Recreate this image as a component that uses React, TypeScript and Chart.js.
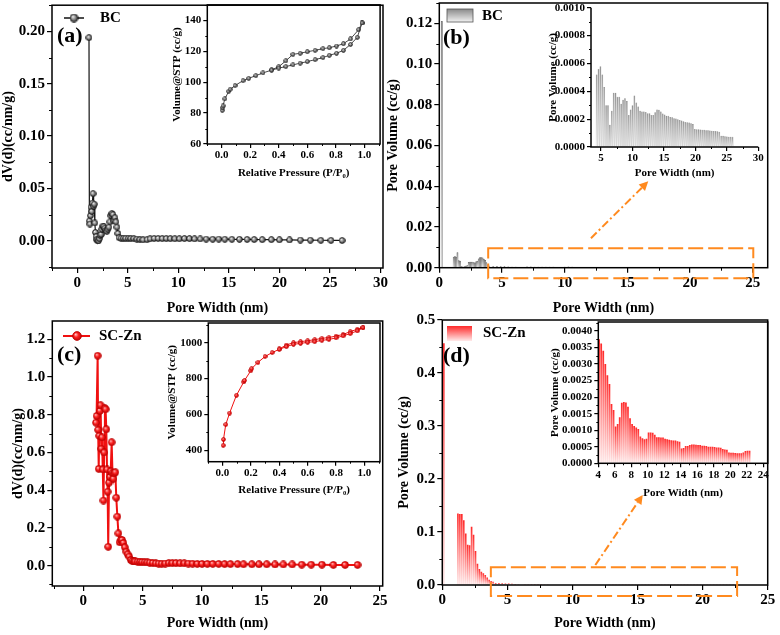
import React, { useEffect, useRef } from 'react';
import { Chart, registerables } from 'chart.js';
Chart.register(...registerables);

const SERIF = "'Liberation Serif', 'Times New Roman', serif";
const ORANGE = '#ff8a1f';

// ---------- (a) BC pore size distribution dV(d) ----------
const A_X = [1.16, 1.2, 1.25, 1.31, 1.37, 1.43, 1.49, 1.56, 1.62, 1.68, 1.74, 1.8, 1.87, 1.94, 2.02, 2.1, 2.18, 2.26, 2.35, 2.44, 2.53, 2.63, 2.73, 2.83, 2.93, 3.03, 3.13, 3.23, 3.33, 3.43, 3.53, 3.63, 3.73, 3.83, 3.93, 4.03, 4.13, 4.33, 4.56, 4.8, 5.05, 5.3, 5.6, 5.9, 6.2, 6.5, 6.9, 7.2, 7.6, 8.0, 8.4, 8.8, 9.2, 9.65, 10.1, 10.6, 11.1, 11.6, 12.16, 12.75, 13.4, 14.0, 14.6, 15.3, 16.05, 16.8, 17.5, 18.3, 19.2, 20.0, 21.0, 22.07, 23.06, 24.1, 25.1, 26.2];
const A_Y = [0.194, 0.019, 0.016, 0.024, 0.032, 0.028, 0.036, 0.045, 0.033, 0.035, 0.017, 0.008, 0.004, 0.001, 0.0, 0.0, 0.002, 0.005, 0.006, 0.011, 0.014, 0.0135, 0.012, 0.01, 0.009, 0.011, 0.013, 0.018, 0.024, 0.026, 0.025, 0.019, 0.022, 0.018, 0.013, 0.007, 0.003, 0.0025, 0.0024, 0.0024, 0.0023, 0.0022, 0.0021, 0.0016, 0.0012, 0.0009, 0.001, 0.0018, 0.0022, 0.0022, 0.0021, 0.0021, 0.002, 0.0019, 0.0019, 0.0021, 0.002, 0.0018, 0.0017, 0.0016, 0.0015, 0.0016, 0.0015, 0.0014, 0.0014, 0.0013, 0.0012, 0.0011, 0.0011, 0.0009, 0.0008, 0.0007, 0.0006, 0.0005, 0.0004, 0.0003];
const A_X_TICKS = [0, 5, 10, 15, 20, 25, 30];
const A_Y_TICKS = [0, 0.05, 0.1, 0.15, 0.2];

// (a) inset: BC isotherm
const AI_ADS_P = [0.005, 0.007, 0.01, 0.023, 0.05, 0.06, 0.094, 0.15, 0.19, 0.24, 0.29, 0.35, 0.4, 0.45, 0.5, 0.55, 0.6, 0.655, 0.71, 0.754, 0.805, 0.853, 0.903, 0.95, 0.984];
const AI_ADS_V = [81.8, 83.5, 84.7, 89.2, 94.1, 95.4, 97.8, 101, 102.5, 104.2, 106, 107.8, 109.1, 110.1, 111.2, 112.3, 113.3, 114.6, 115.9, 117.4, 118.7, 120.6, 124.4, 129, 138.3];
const AI_DES_P = [0.984, 0.96, 0.903, 0.853, 0.805, 0.754, 0.71, 0.655, 0.6, 0.55, 0.5, 0.45, 0.4, 0.35];
const AI_DES_V = [138.3, 134, 128, 124.9, 123.4, 122.3, 121.7, 120.6, 119.7, 118.7, 118, 113.8, 110, 108];
const AI_X_TICKS = [0, 0.2, 0.4, 0.6, 0.8, 1.0];
const AI_Y_TICKS = [60, 80, 100, 120, 140];

// ---------- (b) BC pore volume bars ----------
const B_NEAR_X = [0.2, 1.15, 1.25, 1.35, 1.45, 1.55, 1.65, 1.75, 1.85, 1.95, 2.05, 2.15, 2.25, 2.35, 2.45, 2.55, 2.65, 2.75, 2.85, 2.95, 3.05, 3.15, 3.25, 3.35, 3.45, 3.55, 3.65, 3.75, 3.85, 3.95];
const B_NEAR_Y = [0.121, 0.0052, 0.0054, 0.0052, 0.0074, 0.0035, 0.0032, 0.0006, 0.0004, 0.0003, 0.0005, 0.0009, 0.0011, 0.0026, 0.0028, 0.0027, 0.0028, 0.0025, 0.0024, 0.003, 0.0032, 0.0044, 0.005, 0.005, 0.0049, 0.0042, 0.0036, 0.0025, 0.0014, 0.0009];
const B_X_TICKS = [0, 5, 10, 15, 20, 25];
const B_Y_TICKS = [0, 0.02, 0.04, 0.06, 0.08, 0.1, 0.12];

// (b) inset bars (also the tail of the main bars)
const BI_X = [4.3, 4.6, 4.9, 5.2, 5.5, 5.8, 6.1, 6.4, 6.7, 7.0, 7.3, 7.6, 7.9, 8.2, 8.5, 8.8, 9.1, 9.4, 9.7, 10.0, 10.3, 10.6, 10.9, 11.2, 11.5, 11.8, 12.1, 12.4, 12.7, 13.0, 13.3, 13.6, 13.9, 14.2, 14.5, 14.8, 15.1, 15.4, 15.7, 16.0, 16.3, 16.6, 16.9, 17.2, 17.5, 17.8, 18.1, 18.4, 18.7, 19.0, 19.3, 19.6, 19.9, 20.2, 20.5, 20.8, 21.1, 21.4, 21.7, 22.0, 22.3, 22.6, 22.9, 23.2, 23.5, 23.8, 24.1, 24.4, 24.7, 25.0, 25.3, 25.6, 25.9];
const BI_Y = [0.00052, 0.00056, 0.00058, 0.00052, 0.00043, 0.0003, 0.0003, 0.00016, 0.00026, 0.00039, 0.00039, 0.00036, 0.00036, 0.00031, 0.00034, 0.00035, 0.00033, 0.00023, 0.00027, 0.0003, 0.00037, 0.00032, 0.00029, 0.00026, 0.000254, 0.000254, 0.000252, 0.000243, 0.000242, 0.00023, 0.00023, 0.00025, 0.00027, 0.000268, 0.000254, 0.00024, 0.000234, 0.000225, 0.000224, 0.000215, 0.000213, 0.000207, 0.000205, 0.0002, 0.000194, 0.00019, 0.000184, 0.00018, 0.000178, 0.000175, 0.00017, 0.000165, 0.00013, 0.000128, 0.000127, 0.000125, 0.000124, 0.000123, 0.00012, 0.00012, 0.000118, 0.000117, 0.000115, 0.000115, 0.000113, 0.00011, 0.000081, 0.00008, 0.000078, 0.000075, 0.000074, 0.000074, 0.000073];
const BI_X_TICKS = [5, 10, 15, 20, 25, 30];
const BI_Y_TICKS = [0, 0.0002, 0.0004, 0.0006, 0.0008, 0.001];

// ---------- (c) SC-Zn dV(d) ----------
const C_X = [1.07, 1.12, 1.21, 1.25, 1.3, 1.34, 1.4, 1.46, 1.52, 1.58, 1.64, 1.7, 1.76, 1.82, 1.88, 1.94, 2.0, 2.05, 2.1, 2.17, 2.24, 2.31, 2.39, 2.46, 2.53, 2.61, 2.7, 2.78, 2.87, 2.96, 3.06, 3.16, 3.27, 3.38, 3.5, 3.62, 3.74, 3.87, 4.0, 4.13, 4.26, 4.38, 4.58, 4.78, 4.97, 5.17, 5.4, 5.6, 5.85, 6.1, 6.35, 6.6, 6.9, 7.2, 7.5, 7.8, 8.15, 8.5, 8.85, 9.2, 9.6, 10.0, 10.45, 10.9, 11.4, 11.9, 12.4, 13.0, 13.5, 14.2, 14.8, 15.45, 16.15, 16.85, 17.6, 18.4, 19.2, 20.1, 21.07, 22.05, 23.1];
const C_Y = [0.758, 0.793, 1.113, 0.72, 0.513, 0.688, 0.82, 0.85, 0.62, 0.68, 0.51, 0.345, 0.6, 0.834, 0.829, 0.723, 0.51, 0.392, 0.1, 0.44, 0.47, 0.5, 0.654, 0.49, 0.46, 0.49, 0.495, 0.36, 0.26, 0.171, 0.124, 0.136, 0.136, 0.12, 0.097, 0.074, 0.06, 0.048, 0.03, 0.024, 0.022, 0.022, 0.021, 0.02, 0.019, 0.018, 0.017, 0.016, 0.014, 0.012, 0.011, 0.01, 0.011, 0.013, 0.013, 0.013, 0.012, 0.012, 0.011, 0.01, 0.009, 0.009, 0.009, 0.009, 0.009, 0.008, 0.008, 0.008, 0.007, 0.007, 0.007, 0.007, 0.006, 0.006, 0.006, 0.005, 0.005, 0.005, 0.004, 0.004, 0.004];
const C_X_TICKS = [0, 5, 10, 15, 20, 25];
const C_Y_TICKS = [0, 0.2, 0.4, 0.6, 0.8, 1.0, 1.2];

// (c) inset: SC-Zn isotherm
const CI_ADS_P = [0.005, 0.007, 0.023, 0.05, 0.098, 0.15, 0.155, 0.2, 0.205, 0.25, 0.3, 0.35, 0.4, 0.45, 0.5, 0.55, 0.6, 0.65, 0.7, 0.75, 0.8, 0.85, 0.9, 0.95, 0.99];
const CI_ADS_V = [427, 460, 543, 607, 706, 781, 789, 844, 855, 890, 923, 945, 963, 978, 991, 996, 1002, 1006, 1013, 1018, 1027, 1038, 1051, 1066, 1084];
const CI_DES_P = [0.99, 0.95, 0.9, 0.85, 0.8, 0.75, 0.7, 0.65, 0.6, 0.55, 0.5, 0.45, 0.4];
const CI_DES_V = [1084, 1075, 1062, 1046, 1037, 1029, 1024, 1017, 1011, 1006, 1000, 987, 965];
const CI_X_TICKS = [0, 0.2, 0.4, 0.6, 0.8, 1.0];
const CI_Y_TICKS = [400, 600, 800, 1000];

// ---------- (d) SC-Zn pore volume bars ----------
const D_NEAR_X = [0.12, 1.2, 1.35, 1.5, 1.65, 1.8, 1.95, 2.1, 2.25, 2.4, 2.55, 2.7, 2.85, 3.0, 3.15, 3.3, 3.45, 3.6, 3.75, 3.9];
const D_NEAR_Y = [0.456, 0.135, 0.134, 0.134, 0.122, 0.097, 0.076, 0.075, 0.11, 0.095, 0.064, 0.04, 0.03, 0.025, 0.022, 0.019, 0.014, 0.01, 0.0075, 0.006];
const D_X_TICKS = [0, 5, 10, 15, 20, 25];
const D_Y_TICKS = [0, 0.1, 0.2, 0.3, 0.4, 0.5];

// (d) inset bars (also the tail of the main bars)
const DI_X = [4.1, 4.35, 4.6, 4.85, 5.1, 5.35, 5.6, 5.85, 6.1, 6.35, 6.6, 6.85, 7.1, 7.35, 7.6, 7.85, 8.1, 8.35, 8.6, 8.85, 9.1, 9.35, 9.6, 9.85, 10.1, 10.35, 10.6, 10.85, 11.1, 11.35, 11.6, 11.85, 12.1, 12.35, 12.6, 12.85, 13.1, 13.35, 13.6, 13.85, 14.1, 14.35, 14.6, 14.85, 15.1, 15.35, 15.6, 15.85, 16.1, 16.35, 16.6, 16.85, 17.1, 17.35, 17.6, 17.85, 18.1, 18.35, 18.6, 18.85, 19.1, 19.35, 19.6, 19.85, 20.1, 20.35, 20.6, 20.85, 21.1, 21.35, 21.6, 21.85, 22.1, 22.35];
const DI_Y = [0.00375, 0.00362, 0.0034, 0.003, 0.00266, 0.0024, 0.00179, 0.00161, 0.00111, 0.00119, 0.00139, 0.00183, 0.00185, 0.00184, 0.00171, 0.00136, 0.00119, 0.00113, 0.00108, 0.00104, 0.00081, 0.00076, 0.00073, 0.00074, 0.00093, 0.00093, 0.00092, 0.00086, 0.00079, 0.00079, 0.00078, 0.00078, 0.00074, 0.00073, 0.00071, 0.0007, 0.00069, 0.00069, 0.00067, 0.00065, 0.00045, 0.00046, 0.00052, 0.00052, 0.00055, 0.00057, 0.00057, 0.00056, 0.00055, 0.00055, 0.00053, 0.00053, 0.00052, 0.0005, 0.0005, 0.0005, 0.00049, 0.00048, 0.00048, 0.00047, 0.00043, 0.00042, 0.00041, 0.00033, 0.00032, 0.00032, 0.00031, 0.0003, 0.0003, 0.0003, 0.00033, 0.00037, 0.00038, 0.00038];
const DI_X_TICKS = [4, 6, 8, 10, 12, 14, 16, 18, 20, 22, 24];
const DI_Y_TICKS = [0, 0.0005, 0.001, 0.0015, 0.002, 0.0025, 0.003, 0.0035, 0.004];

// ---------- layout (canvas boxes and plot areas, absolute px) ----------
type Box = { left: number; top: number; width: number; height: number };
type Area = { left: number; top: number; right: number; bottom: number };
const BOXES: Box[] = [
  { left: 0, top: 0, width: 390, height: 317 },
  { left: 385, top: 0, width: 395, height: 317 },
  { left: 0, top: 310, width: 390, height: 325 },
  { left: 385, top: 310, width: 395, height: 325 },
  { left: 150, top: 0, width: 235, height: 182 },
  { left: 520, top: 0, width: 250, height: 185 },
  { left: 150, top: 318, width: 235, height: 180 },
  { left: 520, top: 318, width: 260, height: 185 },
];

const pts = (xs: number[], ys: number[]) => xs.map((x, i) => ({ x, y: ys[i] }));

function sphere(d: number, c0: string, c1: string, c2: string, rim: string) {
  const c = document.createElement('canvas');
  c.width = d;
  c.height = d;
  const g = c.getContext('2d')!;
  const r = d / 2;
  const grad = g.createRadialGradient(r * 0.7, r * 0.65, 0, r, r, r);
  grad.addColorStop(0, c0);
  grad.addColorStop(0.45, c1);
  grad.addColorStop(1, c2);
  g.beginPath();
  g.arc(r, r, r - 0.6, 0, Math.PI * 2);
  g.fillStyle = grad;
  g.fill();
  g.lineWidth = 0.8;
  g.strokeStyle = rim;
  g.stroke();
  return c;
}

function barFill(top: string, bottom: string) {
  return (ctx: any) => {
    const chart = ctx.chart;
    const ys = chart.scales && chart.scales.y;
    if (ctx.type !== 'data' || !ys || !chart.chartArea || !ctx.parsed) return top;
    const y0 = ys.getPixelForValue(0);
    let y1 = ys.getPixelForValue(ctx.parsed.y);
    if (!isFinite(y0) || !isFinite(y1)) return top;
    if (Math.abs(y0 - y1) < 1) y1 = y0 - 1;
    const g = chart.ctx.createLinearGradient(0, y1, 0, y0);
    g.addColorStop(0, top);
    g.addColorStop(1, bottom);
    return g;
  };
}

interface AxisSpec { min: number; max: number; ticks: number[]; dec: number; title: string }
interface Spec {
  box: Box;
  area: Area;
  kind: 'line' | 'bar';
  datasets: any[];
  x: AxisSpec;
  y: AxisSpec;
  tickSize: number;
  titleSize: number;
  tickLen: number;
  minorLen: number;
  frame: 'box' | 'lb';
  xTitlePad: number;
  yTitlePad: number;
  decorate?: (ctx: CanvasRenderingContext2D, chart: any, ox: number, oy: number) => void;
}

function arrow(ctx: CanvasRenderingContext2D, x1: number, y1: number, x2: number, y2: number) {
  const ang = Math.atan2(y2 - y1, x2 - x1);
  const hl = 9;
  const hw = 4.5;
  const bx = x2 - hl * Math.cos(ang);
  const by = y2 - hl * Math.sin(ang);
  ctx.save();
  ctx.strokeStyle = ORANGE;
  ctx.fillStyle = ORANGE;
  ctx.lineWidth = 2;
  ctx.setLineDash([8, 3, 2, 3]);
  ctx.beginPath();
  ctx.moveTo(x1, y1);
  ctx.lineTo(bx, by);
  ctx.stroke();
  ctx.setLineDash([]);
  ctx.beginPath();
  ctx.moveTo(x2, y2);
  ctx.lineTo(bx + hw * Math.sin(ang), by - hw * Math.cos(ang));
  ctx.lineTo(bx - hw * Math.sin(ang), by + hw * Math.cos(ang));
  ctx.closePath();
  ctx.fill();
  ctx.restore();
}

function dashedRect(ctx: CanvasRenderingContext2D, chart: any, x1: number, x2: number, y1: number, y2: number) {
  const xs = chart.scales.x;
  const ys = chart.scales.y;
  const l = xs.getPixelForValue(x1);
  const r = xs.getPixelForValue(x2);
  const t = ys.getPixelForValue(y1);
  const b = ys.getPixelForValue(y2);
  ctx.save();
  ctx.strokeStyle = ORANGE;
  ctx.lineWidth = 2;
  ctx.setLineDash([15, 5]);
  ctx.strokeRect(l, t, r - l, b - t);
  ctx.restore();
}

function text(ctx: CanvasRenderingContext2D, s: string, x: number, y: number, size: number, base: CanvasTextBaseline = 'middle') {
  ctx.save();
  ctx.fillStyle = '#000';
  ctx.font = `bold ${size}px ${SERIF}`;
  ctx.textAlign = 'left';
  ctx.textBaseline = base;
  ctx.fillText(s, x, y);
  ctx.restore();
}

function buildConfig(s: Spec): any {
  const tickFont = { family: SERIF, size: s.tickSize, weight: 'bold' };
  const titleFont = { family: SERIF, size: s.titleSize, weight: 'bold' };
  const yW = s.area.left - s.box.left;
  const xH = s.box.top + s.box.height - s.area.bottom;
  const padTop = s.area.top - s.box.top;
  const padRight = s.box.left + s.box.width - s.area.right;
  const grid = { display: true, drawOnChartArea: false, drawTicks: true, tickLength: s.tickLen, color: '#000', lineWidth: 1.2, offset: false };
  const decor = {
    id: 'decor',
    afterDraw(chart: any) {
      const ctx = chart.ctx as CanvasRenderingContext2D;
      const ca = chart.chartArea;
      const xs = chart.scales.x;
      const ys = chart.scales.y;
      ctx.save();
      ctx.strokeStyle = '#000';
      ctx.lineWidth = 1.5;
      ctx.setLineDash([]);
      if (s.frame === 'box') {
        ctx.strokeRect(ca.left, ca.top, ca.right - ca.left, ca.bottom - ca.top);
      } else {
        ctx.beginPath();
        ctx.moveTo(ca.left, ca.top);
        ctx.lineTo(ca.left, ca.bottom);
        ctx.lineTo(ca.right, ca.bottom);
        ctx.stroke();
      }
      ctx.lineWidth = 1;
      const minors = (t: number[], min: number, max: number) => {
        const st = t[1] - t[0];
        const out: number[] = [];
        for (let v = t[0] - st / 2; v >= min - 1e-9; v -= st) out.push(v);
        for (let v = t[0] + st / 2; v <= max + 1e-9; v += st) out.push(v);
        return out;
      };
      ctx.beginPath();
      for (const v of minors(s.x.ticks, s.x.min, s.x.max)) {
        const p = Math.round(xs.getPixelForValue(v)) + 0.5;
        ctx.moveTo(p, ca.bottom);
        ctx.lineTo(p, ca.bottom + s.minorLen);
      }
      for (const v of minors(s.y.ticks, s.y.min, s.y.max)) {
        const p = Math.round(ys.getPixelForValue(v)) + 0.5;
        ctx.moveTo(ca.left, p);
        ctx.lineTo(ca.left - s.minorLen, p);
      }
      ctx.stroke();
      ctx.restore();
      if (s.decorate) s.decorate(ctx, chart, s.box.left, s.box.top);
    },
  };
  return {
    type: s.kind,
    data: { datasets: s.datasets },
    options: {
      animation: false,
      responsive: false,
      maintainAspectRatio: false,
      events: [],
      layout: { padding: { left: 0, top: padTop, right: padRight, bottom: 0 } },
      plugins: { legend: { display: false }, tooltip: { enabled: false } },
      scales: {
        x: {
          type: 'linear',
          position: 'bottom',
          min: s.x.min,
          max: s.x.max,
          offset: false,
          grid,
          border: { display: false },
          ticks: { font: tickFont, color: '#000', padding: 1, maxRotation: 0, autoSkip: false, callback: (v: any) => Number(v).toFixed(s.x.dec) },
          title: { display: true, text: s.x.title, font: titleFont, color: '#000', padding: { top: 0, bottom: s.xTitlePad } },
          afterBuildTicks: (sc: any) => { sc.ticks = s.x.ticks.map((v) => ({ value: v })); },
          afterFit: (sc: any) => { sc.height = xH; sc.paddingLeft = 0; sc.paddingRight = 0; },
        },
        y: {
          type: 'linear',
          position: 'left',
          min: s.y.min,
          max: s.y.max,
          grid,
          border: { display: false },
          ticks: { font: tickFont, color: '#000', padding: 2, autoSkip: false, callback: (v: any) => Number(v).toFixed(s.y.dec) },
          title: { display: true, text: s.y.title, font: titleFont, color: '#000', padding: { top: s.yTitlePad, bottom: 0 } },
          afterBuildTicks: (sc: any) => { sc.ticks = s.y.ticks.map((v) => ({ value: v })); },
          afterFit: (sc: any) => { sc.width = yW; sc.paddingTop = 0; sc.paddingBottom = 0; },
        },
      },
    },
    plugins: [decor],
  };
}

function buildSpecs(): Spec[] {
  const bc7 = sphere(7, '#ffffff', '#9a9a9a', '#1a1a1a', '#111');
  const bc9 = sphere(9, '#ffffff', '#9a9a9a', '#1a1a1a', '#111');
  const bc5 = sphere(5, '#ffffff', '#8a8a8a', '#1a1a1a', '#222');
  const red8 = sphere(8, '#ffd6d6', '#ff2222', '#b00000', '#c00000');
  const red10 = sphere(10, '#ffd6d6', '#ff2222', '#b00000', '#c00000');
  const red5 = sphere(5, '#ffd6d6', '#ff2222', '#b00000', '#c00000');
  const grayTop = '#8a8a8a';
  const grayBot = '#f2f2f2';
  const redTop = '#ff2a2a';
  const redBot = '#ffeaea';

  const mainTick = 15;
  const mainTitle = 14;
  const insTick = 11;
  const insTitle = 11;

  const A: Spec = {
    box: BOXES[0], area: { left: 52, top: 3, right: 383, bottom: 268 }, kind: 'line',
    datasets: [{ data: pts(A_X, A_Y), borderColor: '#111', borderWidth: 1.2, pointStyle: bc7, pointRadius: 3, tension: 0 }],
    x: { min: -2.5, max: 30.25, ticks: A_X_TICKS, dec: 0, title: 'Pore Width (nm)' },
    y: { min: -0.026, max: 0.225, ticks: A_Y_TICKS, dec: 2, title: 'dV(d)(cc/nm/g)' },
    tickSize: mainTick, titleSize: mainTitle, tickLen: 5, minorLen: 3, frame: 'box', xTitlePad: 0, yTitlePad: 0,
    decorate: (ctx, chart, ox, oy) => {
      ctx.save();
      ctx.strokeStyle = '#111';
      ctx.lineWidth = 1.5;
      ctx.beginPath();
      ctx.moveTo(64 - ox, 18 - oy);
      ctx.lineTo(84 - ox, 18 - oy);
      ctx.stroke();
      ctx.drawImage(bc9, 74 - ox - 4.5, 18 - oy - 4.5);
      ctx.restore();
      text(ctx, 'BC', 100 - ox, 18.5 - oy, 15);
      text(ctx, '(a)', 57 - ox, 42 - oy, 22, 'alphabetic');
    },
  };
  const AI: Spec = {
    box: BOXES[4], area: { left: 207.3, top: 3.5, right: 382.5, bottom: 144 }, kind: 'line',
    datasets: [
      { data: pts(AI_ADS_P, AI_ADS_V), borderColor: '#333', borderWidth: 0.9, pointStyle: bc5, pointRadius: 2.5, tension: 0 },
      { data: pts(AI_DES_P, AI_DES_V), borderColor: '#333', borderWidth: 0.9, pointStyle: bc5, pointRadius: 2.5, tension: 0 },
    ],
    x: { min: -0.1, max: 1.11, ticks: AI_X_TICKS, dec: 1, title: 'Relative Pressure (P/P\u2080)' },
    y: { min: 60, max: 150, ticks: AI_Y_TICKS, dec: 0, title: 'Volume@STP (cc/g)' },
    tickSize: insTick, titleSize: insTitle, tickLen: 4, minorLen: 2, frame: 'box', xTitlePad: 2.4, yTitlePad: 20.9,
  };

  const B: Spec = {
    box: BOXES[1], area: { left: 439.3, top: 3, right: 767.7, bottom: 267.7 }, kind: 'bar',
    datasets: [{
      data: pts([...B_NEAR_X, ...BI_X], [...B_NEAR_Y, ...BI_Y]),
      backgroundColor: barFill(grayTop, grayBot), borderColor: '#666', borderWidth: 0.4,
      barPercentage: 1, categoryPercentage: 1,
    }],
    x: { min: 0, max: 26.2, ticks: B_X_TICKS, dec: 0, title: 'Pore Width (nm)' },
    y: { min: 0, max: 0.13, ticks: B_Y_TICKS, dec: 2, title: 'Pore Volume (cc/g)' },
    tickSize: mainTick, titleSize: mainTitle, tickLen: 5, minorLen: 3, frame: 'box', xTitlePad: 0, yTitlePad: 0,
    decorate: (ctx, chart, ox, oy) => {
      const g = ctx.createLinearGradient(0, 9 - oy, 0, 22 - oy);
      g.addColorStop(0, grayTop);
      g.addColorStop(1, grayBot);
      ctx.save();
      ctx.fillStyle = g;
      ctx.fillRect(447 - ox, 9 - oy, 26, 13);
      ctx.strokeStyle = '#555';
      ctx.lineWidth = 0.8;
      ctx.strokeRect(447 - ox, 9 - oy, 26, 13);
      ctx.restore();
      text(ctx, 'BC', 482 - ox, 16 - oy, 15);
      text(ctx, '(b)', 443 - ox, 44 - oy, 22, 'alphabetic');
      dashedRect(ctx, chart, 3.9, 25.05, 0.0095, -0.0052);
      const xs = chart.scales.x;
      const ys = chart.scales.y;
      arrow(ctx, xs.getPixelForValue(12.1), ys.getPixelForValue(0.0145), xs.getPixelForValue(16.67), ys.getPixelForValue(0.0424));
    },
  };
  const BI: Spec = {
    box: BOXES[5], area: { left: 591, top: 7.7, right: 758.3, bottom: 147 }, kind: 'bar',
    datasets: [{
      data: pts(BI_X, BI_Y),
      backgroundColor: barFill(grayTop, grayBot), borderColor: '#777', borderWidth: 0.4,
      barPercentage: 0.92, categoryPercentage: 1,
    }],
    x: { min: 3.4, max: 30, ticks: BI_X_TICKS, dec: 0, title: 'Pore Width (nm)' },
    y: { min: 0, max: 0.001, ticks: BI_Y_TICKS, dec: 4, title: 'Pore Volume (cc/g)' },
    tickSize: insTick, titleSize: insTitle, tickLen: 4, minorLen: 2, frame: 'lb', xTitlePad: 5.4, yTitlePad: 26.7,
  };

  const C: Spec = {
    box: BOXES[2], area: { left: 52.3, top: 321, right: 382.7, bottom: 586 }, kind: 'line',
    datasets: [{ data: pts(C_X, C_Y), borderColor: '#f01010', borderWidth: 2, pointStyle: red8, pointRadius: 3, tension: 0 }],
    x: { min: -2.61, max: 25.22, ticks: C_X_TICKS, dec: 0, title: 'Pore Width (nm)' },
    y: { min: -0.108, max: 1.297, ticks: C_Y_TICKS, dec: 1, title: 'dV(d)(cc/nm/g)' },
    tickSize: mainTick, titleSize: mainTitle, tickLen: 5, minorLen: 3, frame: 'box', xTitlePad: 3.6, yTitlePad: 10,
    decorate: (ctx, chart, ox, oy) => {
      ctx.save();
      ctx.strokeStyle = '#f01010';
      ctx.lineWidth = 2;
      ctx.beginPath();
      ctx.moveTo(63 - ox, 336 - oy);
      ctx.lineTo(90 - ox, 336 - oy);
      ctx.stroke();
      ctx.drawImage(red10, 77 - ox - 5, 336 - oy - 5);
      ctx.restore();
      text(ctx, 'SC-Zn', 99 - ox, 336.5 - oy, 15);
      text(ctx, '(c)', 57 - ox, 361 - oy, 22, 'alphabetic');
    },
  };
  const CI: Spec = {
    box: BOXES[6], area: { left: 208.3, top: 321.5, right: 382.5, bottom: 461.7 }, kind: 'line',
    datasets: [
      { data: pts(CI_ADS_P, CI_ADS_V), borderColor: '#f01010', borderWidth: 1, pointStyle: red5, pointRadius: 2.5, tension: 0 },
      { data: pts(CI_DES_P, CI_DES_V), borderColor: '#f01010', borderWidth: 1, pointStyle: red5, pointRadius: 2.5, tension: 0 },
    ],
    x: { min: -0.1, max: 1.11, ticks: CI_X_TICKS, dec: 1, title: 'Relative Pressure (P/P\u2080)' },
    y: { min: 335.6, max: 1110, ticks: CI_Y_TICKS, dec: 0, title: 'Volume@STP (cc/g)' },
    tickSize: insTick, titleSize: insTitle, tickLen: 4, minorLen: 2, frame: 'box', xTitlePad: 1.4, yTitlePad: 15.1,
  };

  const D: Spec = {
    box: BOXES[3], area: { left: 442.3, top: 320, right: 767.7, bottom: 585 }, kind: 'bar',
    datasets: [{
      data: pts([...D_NEAR_X, ...DI_X], [...D_NEAR_Y, ...DI_Y]),
      backgroundColor: barFill(redTop, redBot), borderWidth: 0,
      barPercentage: 0.85, categoryPercentage: 1,
    }],
    x: { min: 0, max: 25, ticks: D_X_TICKS, dec: 0, title: 'Pore Width (nm)' },
    y: { min: 0, max: 0.5, ticks: D_Y_TICKS, dec: 1, title: 'Pore Volume (cc/g)' },
    tickSize: mainTick, titleSize: mainTitle, tickLen: 5, minorLen: 3, frame: 'box', xTitlePad: 3.6, yTitlePad: 10.6,
    decorate: (ctx, chart, ox, oy) => {
      const g = ctx.createLinearGradient(0, 326 - oy, 0, 341 - oy);
      g.addColorStop(0, redTop);
      g.addColorStop(1, redBot);
      ctx.save();
      ctx.fillStyle = g;
      ctx.fillRect(447 - ox, 326 - oy, 25, 15);
      ctx.restore();
      text(ctx, 'SC-Zn', 483 - ox, 333.5 - oy, 15);
      text(ctx, '(d)', 443 - ox, 362 - oy, 22, 'alphabetic');
      dashedRect(ctx, chart, 3.73, 22.65, 0.0334, -0.0208);
      const xs = chart.scales.x;
      const ys = chart.scales.y;
      arrow(ctx, xs.getPixelForValue(11.76), ys.getPixelForValue(0.0377), xs.getPixelForValue(15.4), ys.getPixelForValue(0.17));
    },
  };
  const DI: Spec = {
    box: BOXES[7], area: { left: 598.3, top: 322, right: 767.7, bottom: 463.3 }, kind: 'bar',
    datasets: [{
      data: pts(DI_X, DI_Y),
      backgroundColor: barFill(redTop, redBot), borderWidth: 0,
      barPercentage: 0.85, categoryPercentage: 1,
    }],
    x: { min: 4, max: 24.55, ticks: DI_X_TICKS, dec: 0, title: 'Pore Width (nm)' },
    y: { min: 0, max: 0.00427, ticks: DI_Y_TICKS, dec: 4, title: 'Pore Volume (cc/g)' },
    tickSize: insTick, titleSize: insTitle, tickLen: 4, minorLen: 2, frame: 'box', xTitlePad: 3.7, yTitlePad: 28.4,
  };

  return [A, B, C, D, AI, BI, CI, DI];
}

export default function App() {
  const refs = useRef<(HTMLCanvasElement | null)[]>([]);
  useEffect(() => {
    const specs = buildSpecs();
    const charts = specs.map((s, i) => new Chart(refs.current[i] as HTMLCanvasElement, buildConfig(s)));
    return () => charts.forEach((c) => c.destroy());
  }, []);
  return (
    <div style={{ position: 'fixed', left: 0, top: 0, width: 780, height: 635, background: '#fff', overflow: 'hidden' }}>
      {BOXES.map((b, i) => (
        <canvas
          key={i}
          ref={(el) => { refs.current[i] = el; }}
          width={b.width}
          height={b.height}
          style={{ position: 'absolute', left: b.left, top: b.top, width: b.width, height: b.height }}
        />
      ))}
    </div>
  );
}
